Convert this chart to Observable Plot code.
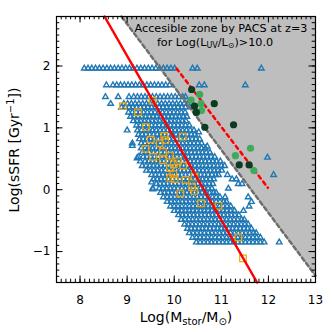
<!DOCTYPE html>
<html><head><meta charset="utf-8">
<script src="https://cdn.jsdelivr.net/npm/d3@7"></script>
<script src="https://cdn.jsdelivr.net/npm/@observablehq/plot@0.6"></script>
<style>html,body{margin:0;padding:0;background:#fff;}</style>
</head><body><div id="chart"></div>
<script>
const xDomain = [7.5, 13];
const yDomain = [-1.5, 2.8];
const xTickValues = [8, 9, 10, 11, 12, 13];
const yTickValues = [-1, 0, 1, 2];

// blue triangles (galaxy sample), grouped by sSFR row
const triRowY = [1.96, 1.69, 1.50, 1.39, 1.33, 1.25, 1.18, 1.11, 1.04, 0.96, 0.89, 0.82, 0.75, 0.67, 0.60, 0.53, 0.46, 0.385, 0.31, 0.24, 0.17, 0.095, 0.02, -0.05, -0.12, -0.195, -0.27, -0.34, -0.41, -0.485, -0.56, -0.63, -0.70, -0.775, -0.85];
const triRowX = [
 [8.09,8.17,8.25,8.33,8.41,8.49,8.57,8.65,8.73,8.81,8.89,8.97,9.05,9.13,9.21,9.29,9.37,9.45,9.53,9.61,9.69,9.77,9.85,9.93,10.01,10.39,10.49,11.85],
 [8.56,8.70,8.78,8.86,8.94,9.02,9.10,9.18,9.26,9.34,9.42,9.50,9.58,9.66,9.74,9.82,9.90,10.53,10.64,11.51],
 [8.54,8.81,9.04,9.14,9.22,9.30,9.38,9.46,9.54,9.62,9.70,9.78,9.86,9.94,10.02,10.10,10.18,10.24],
 [8.65,8.93,9.01,9.09,9.17,9.25,9.33,9.41,9.49,9.57,9.65,9.73,9.81,9.89,9.97,10.05,10.13,10.21,10.29],
 [8.88,8.96,9.04,9.12,9.20,9.28,9.36,9.44,9.52,9.60,9.68,9.76,9.84,9.92,10.00,10.08,10.16,10.24],
 [9.03,9.11,9.19,9.27,9.35,9.43,9.51,9.59,9.67,9.75,9.83,9.91,9.99,10.07,10.15,10.23],
 [9.07,9.15,9.23,9.31,9.39,9.47,9.55,9.63,9.71,9.79,9.87,9.95,10.03,10.11,10.19,10.27],
 [9.13,9.21,9.29,9.37,9.45,9.53,9.61,9.69,9.77,9.85,9.93,10.01,10.09,10.17,10.25],
 [9.20,9.28,9.36,9.44,9.52,9.60,9.68,9.76,9.84,9.92,10.00,10.08,10.16,10.24,10.32],
 [9.00,9.22,9.30,9.38,9.46,9.54,9.62,9.70,9.78,9.86,9.94,10.02,10.10,10.18,10.26,10.34,10.42],
 [9.24,9.32,9.40,9.48,9.56,9.64,9.72,9.80,9.88,9.96,10.04,10.12,10.20,10.28,10.36,10.44],
 [9.26,9.34,9.42,9.50,9.58,9.66,9.74,9.82,9.90,9.98,10.06,10.14,10.22,10.30,10.38,10.46,10.54],
 [9.11,9.30,9.38,9.46,9.54,9.62,9.70,9.78,9.86,9.94,10.02,10.10,10.18,10.26,10.34,10.42,10.50,10.58],
 [9.30,9.38,9.46,9.54,9.62,9.70,9.78,9.86,9.94,10.02,10.10,10.18,10.26,10.34,10.42,10.50,10.58,10.66],
 [9.32,9.40,9.48,9.56,9.64,9.72,9.80,9.88,9.96,10.04,10.12,10.20,10.28,10.36,10.44,10.52,10.60,10.68,10.76],
 [9.24,9.34,9.42,9.50,9.58,9.66,9.74,9.82,9.90,9.98,10.06,10.14,10.22,10.30,10.38,10.46,10.54,10.62,10.70,10.78,10.86],
 [9.28,9.38,9.46,9.54,9.62,9.70,9.78,9.86,9.94,10.02,10.10,10.18,10.26,10.34,10.42,10.50,10.58,10.66,10.74,10.82,10.90,10.98],
 [9.32,9.40,9.48,9.56,9.64,9.72,9.80,9.88,9.96,10.04,10.12,10.20,10.28,10.36,10.44,10.52,10.60,10.68,10.76,10.84,10.92,11.00,11.07],
 [9.41,9.49,9.57,9.65,9.73,9.81,9.89,9.97,10.05,10.13,10.21,10.29,10.37,10.45,10.53,10.61,10.69,10.77,10.85,10.93,11.01],
 [9.52,9.60,9.68,9.76,9.84,9.92,10.00,10.08,10.16,10.24,10.32,10.40,10.48,10.56,10.64,10.72,10.80,10.88,10.94,11.13,12.11],
 [9.56,9.64,9.72,9.80,9.88,9.96,10.04,10.12,10.20,10.28,10.36,10.44,10.52,10.60,10.68,10.76,10.84,11.23,11.32],
 [9.62,9.70,9.78,9.86,9.94,10.02,10.10,10.18,10.26,10.34,10.42,10.50,10.58,10.66,10.74,10.82,11.36,11.44],
 [9.54,9.68,9.76,9.84,9.92,10.00,10.08,10.16,10.24,10.32,10.40,10.48,10.56,10.64,10.72,10.80,11.15],
 [9.71,9.79,9.87,9.95,10.03,10.11,10.19,10.27,10.35,10.43,10.51,10.59,10.67,10.75,10.83,10.89],
 [9.77,9.85,9.93,10.01,10.09,10.17,10.25,10.33,10.41,10.49,10.57,10.65,10.73,10.81,10.89,10.97,11.08,11.57],
 [9.85,9.93,10.01,10.09,10.17,10.25,10.33,10.41,10.49,10.57,10.65,10.73,10.81,10.89,10.97,11.05,11.11,11.64],
 [9.92,10.00,10.08,10.16,10.24,10.32,10.40,10.48,10.56,10.64,10.72,10.80,10.88,10.96,11.04,11.12,11.20,11.59],
 [10.00,10.08,10.16,10.24,10.32,10.40,10.48,10.56,10.64,10.72,10.80,10.88,10.96,11.04,11.12,11.20,11.28,11.47],
 [10.09,10.17,10.25,10.33,10.41,10.49,10.57,10.65,10.73,10.81,10.89,10.97,11.05,11.13,11.21,11.29,11.37],
 [10.15,10.23,10.31,10.39,10.47,10.55,10.63,10.71,10.79,10.87,10.95,11.03,11.11,11.19,11.27,11.35,11.43,11.49],
 [10.22,10.30,10.38,10.46,10.54,10.62,10.70,10.78,10.86,10.94,11.02,11.10,11.18,11.26,11.34,11.42,11.50,11.57],
 [10.28,10.36,10.44,10.52,10.60,10.68,10.76,10.84,10.92,11.00,11.08,11.16,11.24,11.32,11.40,11.48,11.56,11.64],
 [10.32,10.40,10.48,10.56,10.64,10.72,10.80,10.88,10.96,11.04,11.12,11.20,11.28,11.36,11.44,11.52,11.60,11.68,11.74],
 [10.39,10.47,10.55,10.63,10.71,10.79,10.87,10.95,11.03,11.11,11.19,11.27,11.35,11.43,11.51,11.59,11.67,11.75,11.83],
 [10.47,10.55,10.63,10.71,10.79,10.87,10.95,11.03,11.11,11.19,11.27,11.35,11.43,11.51,11.59,11.67,11.75,11.83,11.91,12.23]
];
const triScatterX = [9.11, 9.21, 9.52, 9.55, 11.98, 10.52, 10.70];
const triScatterY = [0.71, 0.51, 0.12, 0.01, 0.52, 0.93, 0.70];

// orange squares
const squareX = [8.91,9.23,9.54,9.40,9.79,9.50,9.81,9.69,10.18,9.39,9.55,9.76,9.91,9.76,10.08,9.99,10.19,9.91,9.98,9.92,10.01,10.24,10.43,10.38,10.43,10.13,10.57,10.94,11.36,11.46];
const squareY = [1.35,1.25,1.44,1.01,0.87,0.81,0.80,0.75,0.86,0.66,0.53,0.61,0.55,0.48,0.46,0.41,0.39,0.35,0.25,0.19,0.17,0.16,0.21,0.04,-0.02,-0.06,-0.22,-0.26,-0.77,-1.11];

// green circles
const darkX = [10.37,10.43,10.47,10.85,10.65,11.26,11.38,11.59];
const darkY = [1.62,1.35,1.25,1.39,1.01,1.05,0.40,0.40];
const lightX = [10.54,10.36,10.57,10.58,11.62,11.30,11.69];
const lightY = [1.54,1.45,1.39,1.28,0.67,0.55,0.31];

// lines
const fitLineX = [8.52, 11.76], fitLineY = [2.80, -1.50];
const zoneLineX = [8.88, 13.0], zoneLineY = [2.80, -1.39];
const offsetLineX = [10.05, 11.99], offsetLineY = [1.96, 0.03];

const tri = triRowX.flatMap((xs, i) => xs.map(x => ({x, y: triRowY[i]})))
  .concat(triScatterX.map((x, i) => ({x, y: triScatterY[i]})));
const squares = squareX.map((x, i) => ({x, y: squareY[i]}));
const dark = darkX.map((x, i) => ({x, y: darkY[i]}));
const light = lightX.map((x, i) => ({x, y: lightY[i]}));
const toPts = (xs, ys) => xs.map((x, i) => ({x, y: ys[i]}));

const W = 332, H = 332, mL = 56, mR = 17, mT = 16, mB = 50;
const kx = (xDomain[1] - xDomain[0]) / (W - mL - mR);
const ky = (yDomain[1] - yDomain[0]) / (H - mT - mB);
const xMinor = d3.range(76, 131).map(i => i / 10);
const yMinor = d3.range(-14, 28).map(i => i / 10);
const maj = 6.5, mnr = 3.3;
const fmt = d => (d < 0 ? "\u2212" + Math.abs(d) : String(d));

const plot = Plot.plot({
  width: W, height: H,
  marginLeft: mL, marginRight: mR, marginTop: mT, marginBottom: mB,
  x: {domain: xDomain, label: null},
  y: {domain: yDomain, label: null},
  style: {fontFamily: "'DejaVu Sans', sans-serif", fontSize: "12px", background: "#fff", color: "#000"},
  marks: [
    Plot.areaY(toPts(zoneLineX, zoneLineY), {x: "x", y1: "y", y2: yDomain[1], fill: "#bebebe"}),
    Plot.dot(tri, {x: "x", y: "y", symbol: "triangle", r: 2.05, stroke: "#1f77b4", fill: "none", strokeWidth: 1.4}),
    Plot.line(toPts(zoneLineX, zoneLineY), {x: "x", y: "y", stroke: "#6e6e6e", strokeWidth: 2.5, strokeDasharray: "4,3"}),
    Plot.dot(squares, {x: "x", y: "y", symbol: "square", r: 3.7, stroke: "#f0a30a", fill: "none", strokeWidth: 1.2}),
    Plot.line(toPts(fitLineX, fitLineY), {x: "x", y: "y", stroke: "#ff0000", strokeWidth: 2.5}),
    Plot.line(toPts(offsetLineX, offsetLineY), {x: "x", y: "y", stroke: "#ff0000", strokeWidth: 2.5, strokeDasharray: "3.5,4"}),
    Plot.dot(light, {x: "x", y: "y", r: 3.6, fill: "#3daa5c"}),
    Plot.dot(dark, {x: "x", y: "y", r: 3.6, fill: "#0b3b20"}),
    // inward ticks
    Plot.ruleX(xMinor, {x: d => d, y1: yDomain[0], y2: yDomain[0] + mnr * ky, stroke: "#000"}),
    Plot.ruleX(xMinor, {x: d => d, y1: yDomain[1], y2: yDomain[1] - mnr * ky, stroke: "#000"}),
    Plot.ruleX(xTickValues, {x: d => d, y1: yDomain[0], y2: yDomain[0] + maj * ky, stroke: "#000"}),
    Plot.ruleX(xTickValues, {x: d => d, y1: yDomain[1], y2: yDomain[1] - maj * ky, stroke: "#000"}),
    Plot.ruleY(yMinor, {y: d => d, x1: xDomain[0], x2: xDomain[0] + mnr * kx, stroke: "#000"}),
    Plot.ruleY(yMinor, {y: d => d, x1: xDomain[1], x2: xDomain[1] - mnr * kx, stroke: "#000"}),
    Plot.ruleY(yTickValues, {y: d => d, x1: xDomain[0], x2: xDomain[0] + maj * kx, stroke: "#000"}),
    Plot.ruleY(yTickValues, {y: d => d, x1: xDomain[1], x2: xDomain[1] - maj * kx, stroke: "#000"}),
    Plot.axisX({ticks: xTickValues, tickSize: 0, tickPadding: 13, fontSize: 12, tickFormat: fmt}),
    Plot.axisY({ticks: yTickValues, tickSize: 0, tickPadding: 6, fontSize: 12, tickFormat: fmt}),
    Plot.frame({stroke: "#000", strokeWidth: 1.2})
  ]
});
document.getElementById("chart").appendChild(plot);

const svg = d3.select(plot);
const font = "'DejaVu Sans', sans-serif";
// x title
const xt = svg.append("text").attr("x", 186).attr("y", 322).attr("text-anchor", "middle")
  .attr("font-family", font).attr("font-size", 14).attr("fill", "#000");
xt.append("tspan").text("Log(M");
xt.append("tspan").attr("font-size", 10).attr("dy", 3).text("stor");
xt.append("tspan").attr("dy", -3).text("/M");
xt.append("tspan").attr("font-size", 10).attr("dy", 3).text("⊙");
xt.append("tspan").attr("dy", -3).text(")");
// y title
const yt = svg.append("text").attr("transform", "translate(18.5,150) rotate(-90)").attr("text-anchor", "middle")
  .attr("font-family", font).attr("font-size", 14).attr("fill", "#000");
yt.append("tspan").text("Log(sSFR [Gyr");
yt.append("tspan").attr("font-size", 10).attr("dy", -5).text("−1");
yt.append("tspan").attr("dy", 5).text("])");
// annotation
svg.append("text").attr("x", 221).attr("y", 32).attr("text-anchor", "middle")
  .attr("font-family", font).attr("font-size", 11.2).attr("fill", "#000")
  .text("Accesible zone by PACS at z=3");
const an = svg.append("text").attr("x", 215).attr("y", 45.5).attr("text-anchor", "middle")
  .attr("font-family", font).attr("font-size", 11.2).attr("fill", "#000");
an.append("tspan").text("for Log(L");
an.append("tspan").attr("font-size", 8).attr("dy", 2).text("UV");
an.append("tspan").attr("dy", -2).text("/L");
an.append("tspan").attr("font-size", 8).attr("dy", 2).text("⊙");
an.append("tspan").attr("dy", -2).text(")>10.0");
</script>
</body></html>
